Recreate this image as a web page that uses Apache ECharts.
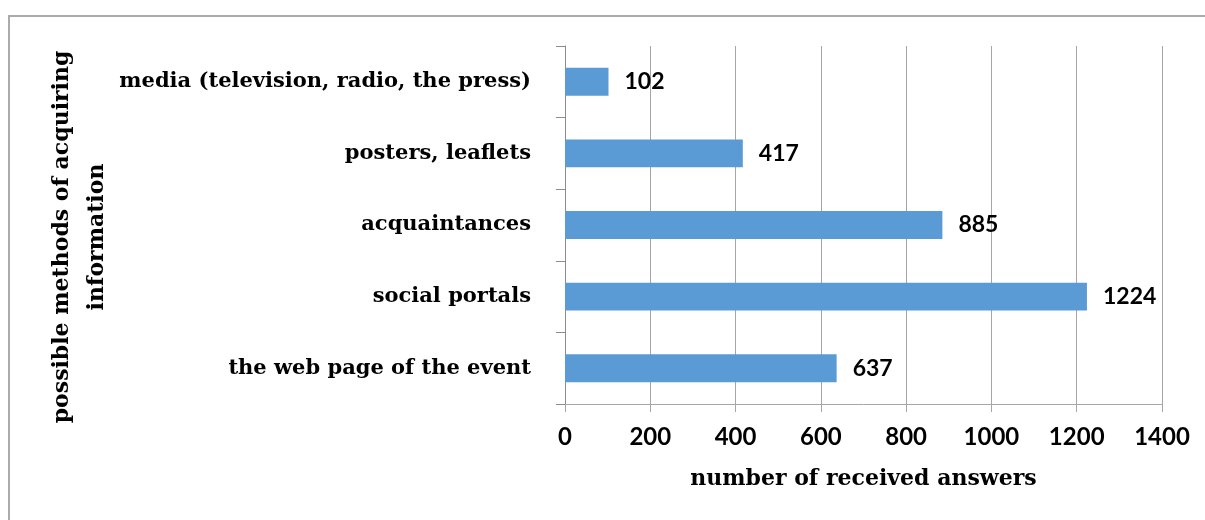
<!DOCTYPE html>
<html>
<head>
<meta charset="utf-8">
<script src="https://cdn.jsdelivr.net/npm/echarts@6/dist/echarts.min.js"></script>
<style>
  html, body { margin: 0; padding: 0; background: #fff; }
  #chart { width: 1205px; height: 520px; }
</style>
</head>
<body>
<div id="chart"></div>
<script>
// Ways respondents learned about the event, top to bottom
const categories = [
  'media (television, radio, the press)',
  'posters, leaflets',
  'acquaintances',
  'social portals',
  'the web page of the event'
];
const answers = [102, 417, 885, 1224, 637];
const xTicks = { min: 0, max: 1400, step: 200 };
const xTitle = 'number of received answers';
const yTitle = 'possible methods of acquiring\ninformation';

const serif = '"DejaVu Serif", "Liberation Serif", serif';
const sans = 'Lato, "Open Sans", sans-serif';
const gridGray = '#A6A6A6';
const axisGray = '#8C8C8C';

const chart = echarts.init(document.getElementById('chart'), null, { renderer: 'canvas' });
chart.setOption({
  animation: false,
  backgroundColor: '#fff',
  grid: { left: 565, right: 43, top: 46, bottom: 116, containLabel: false },
  xAxis: {
    type: 'value',
    min: xTicks.min,
    max: xTicks.max,
    interval: xTicks.step,
    name: xTitle,
    nameLocation: 'middle',
    nameGap: 64,
    nameTextStyle: { fontFamily: serif, fontWeight: 'bold', fontSize: 22, color: '#000' },
    axisLine: { show: true, lineStyle: { color: gridGray, width: 1 } },
    axisTick: { show: true, length: 8, lineStyle: { color: gridGray } },
    axisLabel: {
      margin: 21, fontFamily: sans, fontWeight: 'bold', fontSize: 24, color: '#000',
      formatter: (v) => String(v)
    },
    splitLine: { show: true, lineStyle: { color: gridGray, width: 1 } }
  },
  yAxis: {
    type: 'category',
    inverse: true,
    data: categories,
    axisLine: { show: true, lineStyle: { color: axisGray, width: 1 } },
    axisTick: { show: true, length: 9, alignWithLabel: false, lineStyle: { color: axisGray } },
    axisLabel: { margin: 34, fontFamily: serif, fontWeight: 'bold', fontSize: 21, color: '#000' },
    splitLine: { show: false }
  },
  series: [{
    type: 'bar',
    data: answers,
    barWidth: '39%',
    itemStyle: { color: '#5B9BD5' },
    label: {
      show: true,
      position: 'right',
      distance: 16,
      fontFamily: sans,
      fontWeight: 'bold',
      fontSize: 23,
      color: '#000'
    }
  }],
  graphic: [
    {
      type: 'rect',
      silent: true,
      shape: { x: 9, y: 16, width: 1300, height: 600 },
      style: { fill: 'none', stroke: '#ABABAB', lineWidth: 2 }
    },
    {
      type: 'text',
      silent: true,
      x: 80,
      y: 237,
      rotation: Math.PI / 2,
      style: {
        text: yTitle,
        align: 'center',
        verticalAlign: 'middle',
        fontFamily: serif,
        fontWeight: 'bold',
        fontSize: 22,
        lineHeight: 35,
        fill: '#000'
      }
    }
  ]
});
</script>
</body>
</html>
